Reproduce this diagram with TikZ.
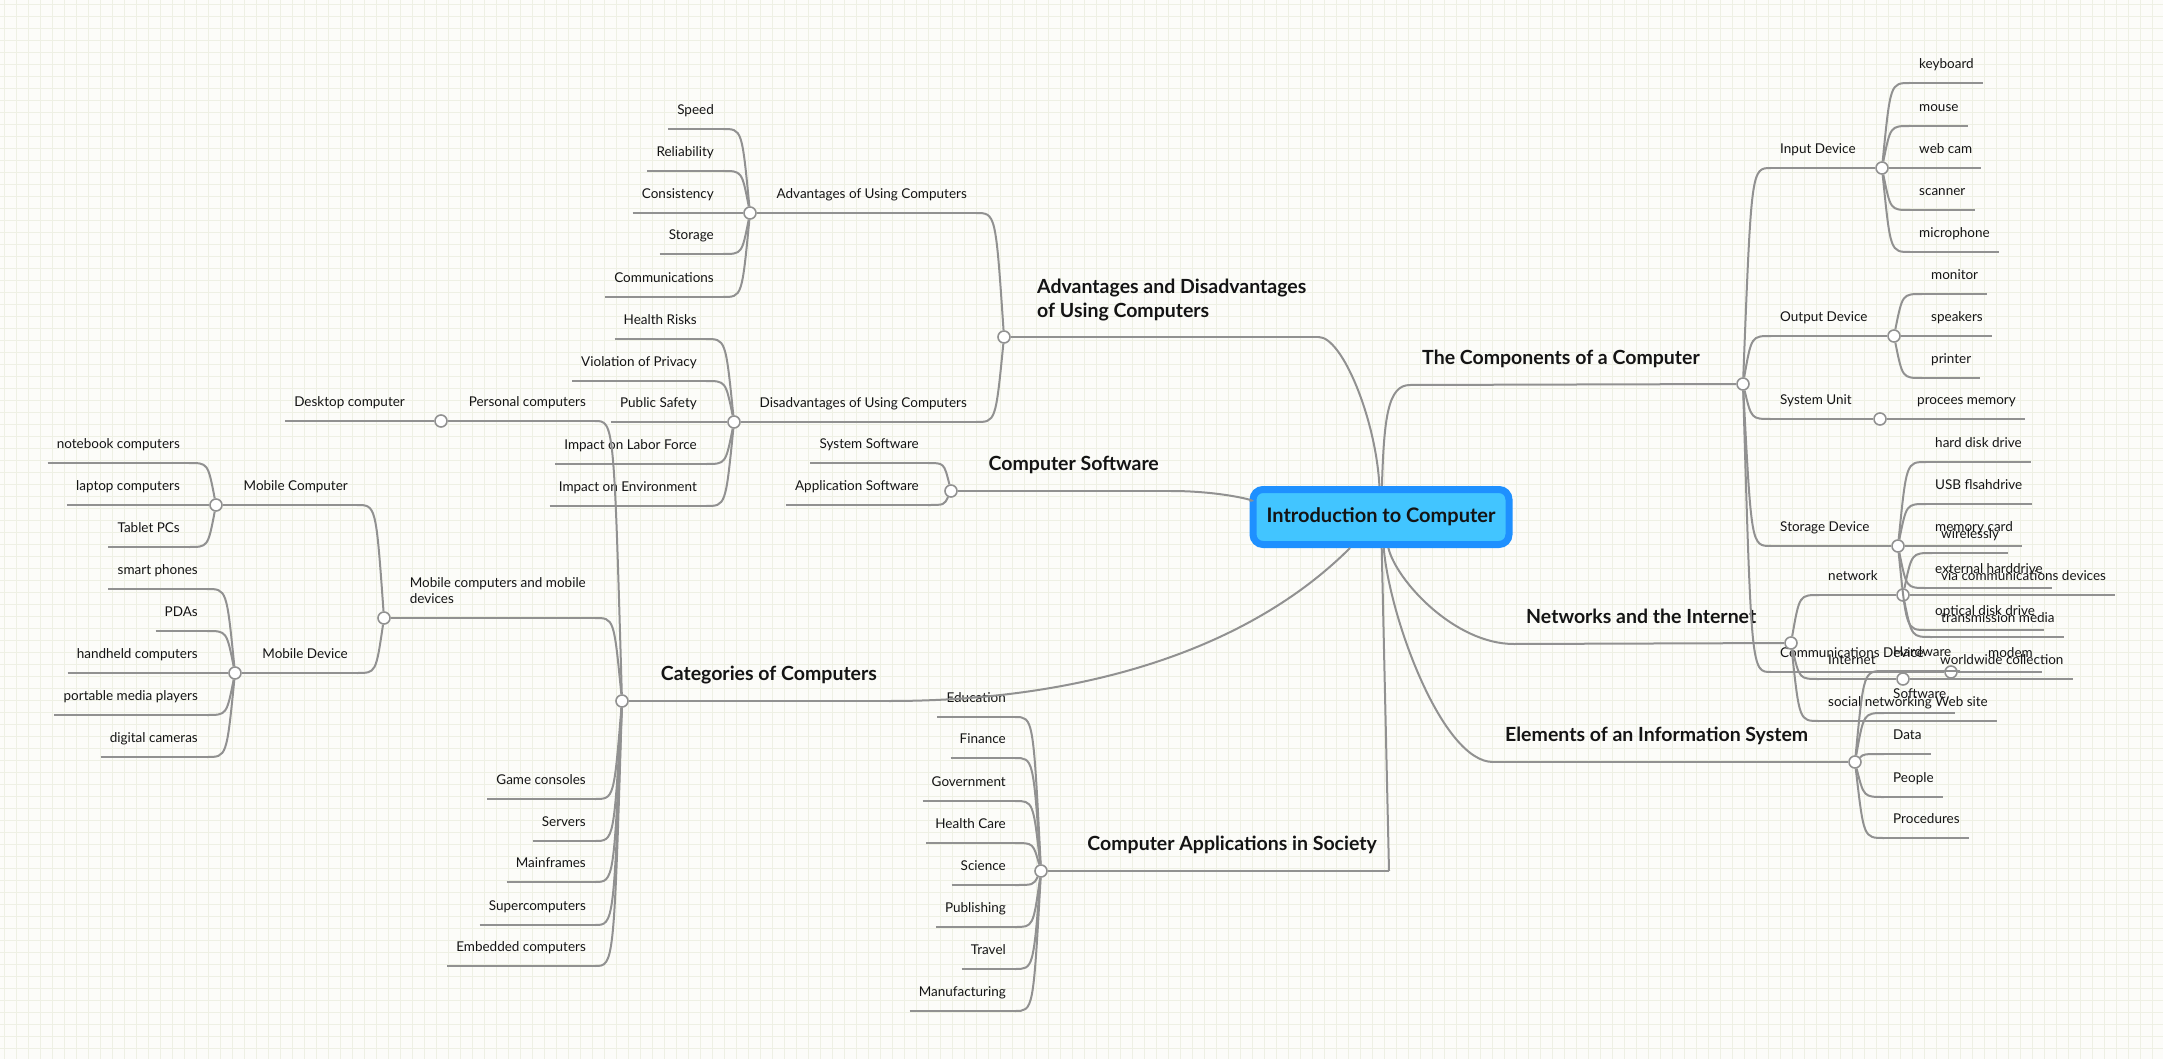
\documentclass[tikz,border=0pt]{standalone}
\usepackage{fontspec}
\setmainfont{Lato}
\usetikzlibrary{calc}
\definecolor{paper}{RGB}{252,252,249}
\definecolor{gridline}{RGB}{238,240,228}
\definecolor{linegray}{RGB}{145,145,145}
\definecolor{ink}{RGB}{20,20,20}
\definecolor{rootblue}{RGB}{30,144,255}
\definecolor{rootfill}{RGB}{66,197,255}
\tikzset{
  wire/.style={draw=linegray, line width=2pt},
  knob/.style={circle, draw=linegray, line width=1.6pt, fill=white, inner sep=0pt, minimum size=12pt},
  leaf/.style={font=\fontsize{13.5}{16}\selectfont, text=ink, inner xsep=9pt, inner ysep=0pt, text height=10pt, text depth=14pt},
  branch/.style={font=\bfseries\fontsize{19.5}{24}\selectfont, text=ink, inner xsep=12pt, inner ysep=0pt, text height=14pt, text depth=20pt},
  rootbox/.style={draw=rootblue, fill=rootfill, line width=7pt, rounded corners=10pt, minimum width=256pt, minimum height=55pt, font=\bfseries\fontsize{20}{24}\selectfont, text=ink},
  elbow/.style={to path={.. controls ($(\tikztostart |- \tikztotarget)!.3!(\tikztotarget)$) .. (\tikztotarget)}}
}
\begin{document}
\begin{tikzpicture}[x=1pt, y=-1pt]
    \useasboundingbox (0,0) rectangle (2163,1059);
    \fill[paper] (0,0) rectangle (2163,1059);
    \foreach \gx in {4,16,...,2163} {
        \draw[gridline, line width=0.8pt] (\gx,0) -- (\gx,1059);
    }
    \foreach \gy in {4,16,...,1059} {
        \draw[gridline, line width=0.8pt] (0,\gy) -- (2163,\gy);
    }

    % centre
    \node[rootbox] (root) at (1381,517) {Introduction to Computer};

    % the components of a computer
    \node[branch, anchor=south west] (comp) at (1410,385) {The Components of a Computer};
    \node[knob] (compk) at (1743,384) {};
    \foreach \y/\n/\txt in {168/inp/Input Device,336/outp/Output Device,419/sysu/System Unit,546/stor/Storage Device,672/comd/Communications Device}
        \node[leaf, anchor=south west] (\n) at (1771,\y) {\txt};
    \node[knob] (inpk) at (1882,168) {};
    \node[knob] (outk) at (1894,336) {};
    \node[knob] (sysk) at (1880,419) {};
    \node[knob] (stork) at (1898,546) {};
    \node[knob] (comdk) at (1951,672) {};
    \foreach \y/\n/\txt in {83/kbd/keyboard,126/mou/mouse,168/cam/web cam,210/scan/scanner,252/mic/microphone}
        \node[leaf, anchor=south west] (\n) at (1910,\y) {\txt};
    \foreach \y/\n/\txt in {294/moni/monitor,336/spk/speakers,378/prnt/printer}
        \node[leaf, anchor=south west] (\n) at (1922,\y) {\txt};
    \node[leaf, anchor=south west] (mem) at (1908,419) {procees memory};
    \foreach \y/\n/\txt in {462/hdd/hard disk drive,504/usb/USB flsahdrive,546/card/memory card,588/exthd/external harddrive,630/odd/optical disk drive}
        \node[leaf, anchor=south west] (\n) at (1926,\y) {\txt};
    \node[leaf, anchor=south west] (modem) at (1979,672) {modem};

    % networks and the internet
    \node[branch, anchor=south west] (net) at (1514,644) {Networks and the Internet};
    \node[knob] (netk) at (1791,643) {};
    \foreach \y/\n/\txt in {595/netw/network,679/inet/Internet,721/socw/social networking Web site}
        \node[leaf, anchor=south west] (\n) at (1819,\y) {\txt};
    \node[knob] (netwk) at (1903,595) {};
    \node[knob] (inetk) at (1903,679) {};
    \foreach \y/\n/\txt in {553/wless/wirelessly,595/viadev/via communications devices,637/trans/transmission media}
        \node[leaf, anchor=south west] (\n) at (1932,\y) {\txt};
    \node[leaf, anchor=south west] (www) at (1931,679) {worldwide collection};

    % elements of an information system
    \node[branch, anchor=south west] (elem) at (1493,762) {Elements of an Information System};
    \node[knob] (elemk) at (1855,762) {};
    \foreach \y/\n/\txt in {671/hw/Hardware,713/sw/Software,754/data/Data,797/ppl/People,838/proc/Procedures}
        \node[leaf, anchor=south west] (\n) at (1884,\y) {\txt};

    % advantages and disadvantages
    \node[branch, align=left, text height={}, text depth={}, anchor=south west] (advdis) at (1025,321) {Advantages and Disadvantages\\of Using Computers};
    \node[knob] (advk) at (1004,337) {};
    \coordinate (advend) at (advdis.south east |- advk);
    \node[leaf, anchor=south east] (advu) at (976,213) {Advantages of Using Computers};
    \node[knob] (advuk) at (750,213) {};
    \node[leaf, anchor=south east] (disu) at (976,422) {Disadvantages of Using Computers};
    \node[knob] (disuk) at (734,422) {};
    \foreach \y/\n/\txt in {129/speed/Speed,171/rel/Reliability,213/cons/Consistency,254/store/Storage,297/comm/Communications}
        \node[leaf, anchor=south east] (\n) at (723,\y) {\txt};
    \foreach \y/\n/\txt in {339/health/Health Risks,381/priv/Violation of Privacy,422/safe/Public Safety,464/labor/Impact on Labor Force,506/env/Impact on Environment}
        \node[leaf, anchor=south east] (\n) at (706,\y) {\txt};

    % computer software
    \node[branch, anchor=south east] (soft) at (1171,491) {Computer Software};
    \node[knob] (softk) at (951,491) {};
    \node[leaf, anchor=south east] (syssw) at (928,463) {System Software};
    \node[leaf, anchor=south east] (appsw) at (928,505) {Application Software};

    % categories of computers
    \node[branch, anchor=south east] (cat) at (889,701) {Categories of Computers};
    \node[knob] (catk) at (622,701) {};
    \node[leaf, anchor=south east] (pers) at (595,421) {Personal computers};
    \node[knob] (persk) at (441,421) {};
    \node[leaf, anchor=south east] (desk) at (414,421) {Desktop computer};
    \node[leaf, align=left, text height={}, text depth={}, anchor=south east] (mob) at (595,604) {Mobile computers and mobile\\devices};
    \node[knob] (mobk) at (384,618) {};
    \coordinate (mobend) at (mob.south east |- mobk);
    \node[leaf, anchor=south east] (mobc) at (357,505) {Mobile Computer};
    \node[knob] (mobck) at (216,505) {};
    \node[leaf, anchor=south east] (mobd) at (357,673) {Mobile Device};
    \node[knob] (mobdk) at (235,673) {};
    \foreach \y/\n/\txt in {463/note/notebook computers,505/lap/laptop computers,547/tab/Tablet PCs}
        \node[leaf, anchor=south east] (\n) at (189,\y) {\txt};
    \foreach \y/\n/\txt in {589/phone/smart phones,631/pda/PDAs,673/hand/handheld computers,715/media/portable media players,757/dcam/digital cameras}
        \node[leaf, anchor=south east] (\n) at (207,\y) {\txt};
    \foreach \y/\n/\txt in {799/game/Game consoles,841/serv/Servers,882/main/Mainframes,925/super/Supercomputers,966/emb/Embedded computers}
        \node[leaf, anchor=south east] (\n) at (595,\y) {\txt};

    % computer applications in society
    \node[branch, anchor=south east] (app) at (1389,871) {Computer Applications in Society};
    \node[knob] (appk) at (1041,871) {};
    \foreach \y/\n/\txt in {717/edu/Education,758/fin/Finance,801/gov/Government,843/care/Health Care,885/sci/Science,927/pub/Publishing,969/trav/Travel,1011/manu/Manufacturing}
        \node[leaf, anchor=south east] (\n) at (1015,\y) {\txt};

    % lines from the centre
    \draw[wire] (root) .. controls +(3,-100) and +(-22,0) .. (comp.south west);
    \draw[wire] (root) .. controls +(15,63) and +(-60,0) .. (net.south west);
    \draw[wire] (root) .. controls +(9,103) and +(-50,0) .. (elem.south west);
    \draw[wire] (root) -- (app.south east);
    \draw[wire] (root) .. controls +(-130,130) and +(200,0) .. (cat.south east);
    \draw[wire] (root) .. controls +(-120,-15) and +(52,0) .. (soft.south east);
    \draw[wire] (root) .. controls +(-5,-97) and +(24,0) .. (advend);

    % underlines
    \foreach \n/\k in {comp/compk,net/netk,elem/elemk,inp/inpk,outp/outk,sysu/sysk,stor/stork,comd/comdk,netw/netwk,inet/inetk}
        \draw[wire] (\n.south west) -- (\k);
    \foreach \n/\k in {cat/catk,soft/softk,app/appk,advu/advuk,disu/disuk,pers/persk,mobc/mobck,mobd/mobdk}
        \draw[wire] (\n.south east) -- (\k);
    \draw[wire] (advend) -- (advk);
    \draw[wire] (mobend) -- (mobk);
    \foreach \n in {kbd,mou,cam,scan,mic,moni,spk,prnt,mem,hdd,usb,card,exthd,odd,modem,socw,wless,viadev,trans,www,hw,sw,data,ppl,proc,speed,rel,cons,store,comm,health,priv,safe,labor,env,syssw,appsw,desk,note,lap,tab,phone,pda,hand,media,dcam,game,serv,main,super,emb,edu,fin,gov,care,sci,pub,trav,manu}
        \draw[wire] (\n.south west) -- (\n.south east);

    % branches
    \foreach \n in {inp,outp,sysu,stor,comd}
        \draw[wire] (compk) to[elbow] (\n.south west);
    \foreach \n in {kbd,mou,cam,scan,mic}
        \draw[wire] (inpk) to[elbow] (\n.south west);
    \foreach \n in {moni,spk,prnt}
        \draw[wire] (outk) to[elbow] (\n.south west);
    \draw[wire] (sysk) to[elbow] (mem.south west);
    \foreach \n in {hdd,usb,card,exthd,odd}
        \draw[wire] (stork) to[elbow] (\n.south west);
    \draw[wire] (comdk) to[elbow] (modem.south west);
    \foreach \n in {netw,inet,socw}
        \draw[wire] (netk) to[elbow] (\n.south west);
    \foreach \n in {wless,viadev,trans}
        \draw[wire] (netwk) to[elbow] (\n.south west);
    \draw[wire] (inetk) to[elbow] (www.south west);
    \foreach \n in {hw,sw,data,ppl,proc}
        \draw[wire] (elemk) to[elbow] (\n.south west);
    \draw[wire] (advk) to[elbow] (advu.south east);
    \draw[wire] (advk) to[elbow] (disu.south east);
    \foreach \n in {speed,rel,cons,store,comm}
        \draw[wire] (advuk) to[elbow] (\n.south east);
    \foreach \n in {health,priv,safe,labor,env}
        \draw[wire] (disuk) to[elbow] (\n.south east);
    \foreach \n in {syssw,appsw}
        \draw[wire] (softk) to[elbow] (\n.south east);
    \draw[wire] (persk) to[elbow] (desk.south east);
    \foreach \n in {pers,game,serv,main,super,emb}
        \draw[wire] (catk) to[elbow] (\n.south east);
    \draw[wire] (catk) to[elbow] (mobend);
    \draw[wire] (mobk) to[elbow] (mobc.south east);
    \draw[wire] (mobk) to[elbow] (mobd.south east);
    \foreach \n in {note,lap,tab}
        \draw[wire] (mobck) to[elbow] (\n.south east);
    \foreach \n in {phone,pda,hand,media,dcam}
        \draw[wire] (mobdk) to[elbow] (\n.south east);
    \foreach \n in {edu,fin,gov,care,sci,pub,trav,manu}
        \draw[wire] (appk) to[elbow] (\n.south east);
\end{tikzpicture}
\end{document}
